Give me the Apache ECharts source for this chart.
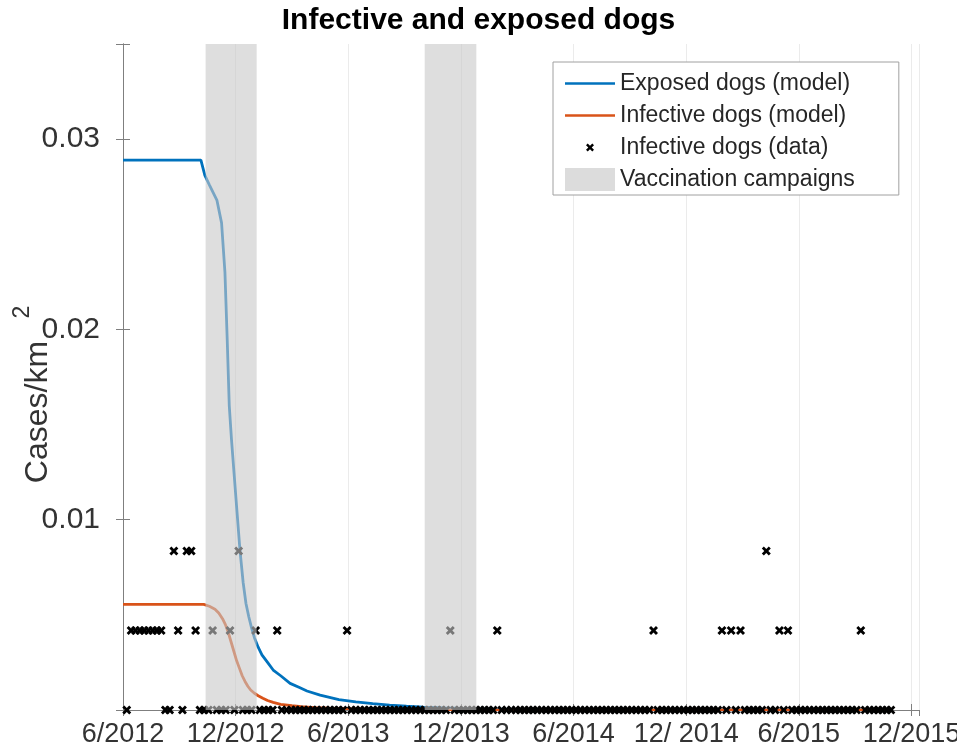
<!DOCTYPE html>
<html><head><meta charset="utf-8">
<script src="https://cdn.jsdelivr.net/npm/echarts@6/dist/echarts.min.js"></script>
<style>html,body{margin:0;padding:0;background:#fff}#c{width:957px;height:751px}</style>
</head><body><div id="c"></div>
<script>
// x axis unit: months since 1 June 2012
const tickLabels = ['6/2012', '12/2012', '6/2013', '12/2013', '6/2014', '12/ 2014', '6/2015', '12/2015'];

// Exposed dogs (model), cases/km^2
const exposedMonths = [0, 4.15, 4.36, 4.6, 5.0, 5.25, 5.43, 5.55, 5.66, 5.78, 6.05, 6.23, 6.4, 6.55, 6.7, 6.85, 7.0, 7.2, 7.4, 7.7, 8.0, 8.4, 8.9, 9.4, 9.8, 10.5, 11.5, 12.4, 13.3, 14.2, 15.1, 16.0, 17.0, 18.0, 19.0, 21.0, 24.0, 30.0, 41.0];
const exposedValues = [0.0289, 0.0289, 0.0281, 0.0276, 0.0268, 0.0256, 0.0230, 0.0195, 0.0160, 0.0142, 0.0107, 0.0084, 0.0067, 0.0056, 0.0049, 0.0043, 0.0038, 0.0033, 0.0029, 0.0025, 0.0021, 0.0018, 0.0014, 0.00118, 0.0010, 0.00078, 0.00055, 0.00043, 0.00034, 0.00026, 0.0002, 0.00015, 0.00011, 0.00008, 0.00006, 0.00003, 0.00001, 0, 0];

// Infective dogs (model), cases/km^2
const infectiveMonths = [0, 4.3, 4.6, 4.9, 5.1, 5.3, 5.45, 5.6, 5.75, 5.9, 6.05, 6.2, 6.35, 6.5, 6.65, 6.8, 7.0, 7.2, 7.45, 7.7, 8.0, 8.4, 9.0, 9.5, 10.2, 11.0, 12.0, 13.0, 16.0, 20.0, 41.0];
const infectiveValues = [0.00555, 0.00555, 0.00545, 0.0053, 0.0051, 0.0048, 0.0045, 0.0041, 0.0036, 0.0031, 0.0026, 0.0022, 0.0018, 0.0015, 0.00125, 0.00105, 0.00088, 0.00075, 0.00062, 0.0005, 0.0004, 0.0003, 0.00023, 0.00018, 0.00013, 0.0001, 0.00007, 0.00005, 0.00002, 0.00001, 0];

// Infective dogs (data): weekly counts of cases, first week starting 7 June 2012
const firstWeek = [2012, 5, 7];
const weeklyCases = [
  0,1,1,1,1,1,1,1,1,0, 0,2,1,0,2,2,1,0,0,0, 1,0,0,0,1,0,2,0,0,0,
  1,0,0,0,0,1,0,0,0,0, 0,0,0,0,0,0,0,0,0,0, 0,1,0,0,0,0,0,0,0,0,
  0,0,0,0,0,0,0,0,0,0, 0,0,0,0,0,1,0,0,0,0, 0,0,0,0,0,0,1,0,0,0,
  0,0,0,0,0,0,0,0,0,0, 0,0,0,0,0,0,0,0,0,0, 0,0,0,0,0,0,0,0,0,0,
  0,0,1,0,0,0,0,0,0,0, 0,0,0,0,0,0,0,0,1,0, 1,0,1,0,0,0,0,0,2,0,
  0,1,0,1,0,0,0,0,0,0, 0,0,0,0,0,0,0,0,0,0, 1,0,0,0,0,0,0,0
];
const densityPerCase = 0.00418; // cases/km^2 for one dog

// Vaccination campaigns (months since 1 June 2012)
const campaignStart = [4.40, 16.07];
const campaignEnd = [7.12, 18.82];

function monthsSinceJune2012(d) {
  const y = d.getFullYear(), m = d.getMonth(), day = d.getDate();
  const dim = new Date(y, m + 1, 0).getDate();
  return (y - 2012) * 12 + (m - 5) + (day - 1) / dim;
}

const dataPoints = weeklyCases.map((c, i) => {
  const d = new Date(firstWeek[0], firstWeek[1], firstWeek[2] + 7 * i);
  return [monthsSinceJune2012(d), c * densityPerCase];
});

const FONT = 'Liberation Sans';
const AXC = '#7f7f7f';
const xMarker = 'path://M0 0.45L0.45 0L1 0.55L1.55 0L2 0.45L1.45 1L2 1.55L1.55 2L1 1.45L0.45 2L0 1.55L0.55 1Z';
const xLegend = 'path://M0 0L0 0M50 23L50 23M21 9.2L22.7 7.5L25 9.8L27.3 7.5L29 9.2L26.7 11.5L29 13.8L27.3 15.5L25 13.2L22.7 15.5L21 13.8L23.3 11.5Z';
const lineLegend = 'path://M0 0L0 0M50 23L50 23M0 10.2L50 10.2L50 12.8L0 12.8Z';

const chart = echarts.init(document.getElementById('c'), null, {renderer: 'canvas'});
chart.setOption({
  animation: false,
  backgroundColor: '#fff',
  title: {
    text: 'Infective and exposed dogs', left: 'center', top: 1,
    textStyle: {fontFamily: FONT, fontSize: 30, fontWeight: 'bold', color: '#000'}
  },
  graphic: [
    {type: 'text', x: 38, y: 412, rotation: Math.PI / 2, silent: true,
      style: {text: 'Cases/km', fontFamily: FONT, fontSize: 32, fill: '#333', align: 'center', verticalAlign: 'middle'}},
    {type: 'text', x: 23, y: 312, rotation: Math.PI / 2, silent: true,
      style: {text: '2', fontFamily: FONT, fontSize: 23, fill: '#333', align: 'center', verticalAlign: 'middle'}}
  ],
  grid: {left: 123, right: 38, top: 44, bottom: 41, containLabel: false, outerBoundsMode: 'none'},
  legend: {
    orient: 'vertical', left: 553, top: 62,
    padding: [10, 44, 4, 12], itemGap: 9, itemWidth: 50, itemHeight: 23,
    backgroundColor: '#fff', borderColor: '#a0a0a0', borderWidth: 1,
    textStyle: {fontFamily: FONT, fontSize: 23, color: '#262626', lineHeight: 23},
    data: [
      {name: 'Exposed dogs (model)', icon: lineLegend},
      {name: 'Infective dogs (model)', icon: lineLegend},
      {name: 'Infective dogs (data)', icon: xLegend},
      {name: 'Vaccination campaigns', icon: 'rect', itemStyle: {color: '#dcdcdc'}}
    ]
  },
  xAxis: [{
    type: 'value', min: 0, max: 42.4, interval: 6,
    axisLine: {show: true, lineStyle: {color: AXC}},
    axisTick: {show: true, inside: true, length: 6, lineStyle: {color: AXC}},
    splitLine: {show: true, lineStyle: {color: '#ebebeb', width: 1}},
    axisLabel: {
      margin: 11, fontFamily: FONT, fontSize: 27, color: '#333',
      formatter: v => (Math.abs(v / 6 - Math.round(v / 6)) < 1e-6 ? (tickLabels[Math.round(v / 6)] || '') : ''),
      showMaxLabel: false
    }
  }, {
    type: 'value', position: 'top', min: 0, max: 42.4, interval: 6,
    axisLine: {show: true, lineStyle: {color: AXC}},
    axisTick: {show: true, inside: true, length: 6, lineStyle: {color: AXC}},
    splitLine: {show: false}, axisLabel: {show: false}
  }],
  yAxis: [{
    type: 'value', min: 0, max: 0.035, interval: 0.01,
    axisLine: {show: true, lineStyle: {color: AXC}},
    axisTick: {show: true, inside: true, length: 7, lineStyle: {color: AXC}},
    splitLine: {show: false},
    axisLabel: {
      margin: 23, fontFamily: FONT, fontSize: 30, color: '#333',
      formatter: v => (v > 0.005 && v < 0.031 ? v.toFixed(2) : '')
    }
  }, {
    type: 'value', position: 'right', min: 0, max: 0.035, interval: 0.01,
    axisLine: {show: true, lineStyle: {color: AXC}},
    axisTick: {show: true, inside: true, length: 7, lineStyle: {color: AXC}},
    splitLine: {show: false}, axisLabel: {show: false}
  }],
  series: [
    {
      name: 'Exposed dogs (model)', type: 'line', z: 3,
      data: exposedMonths.map((m, i) => [m, exposedValues[i]]),
      symbol: 'none', smooth: false,
      lineStyle: {color: '#0072BD', width: 2.8}, itemStyle: {color: '#0072BD'}
    },
    {
      name: 'Infective dogs (model)', type: 'line', z: 3,
      data: infectiveMonths.map((m, i) => [m, infectiveValues[i]]),
      symbol: 'none', smooth: false,
      lineStyle: {color: '#D95319', width: 2.8}, itemStyle: {color: '#D95319'}
    },
    {
      name: 'Infective dogs (data)', type: 'scatter', z: 4, clip: false,
      data: dataPoints, symbol: xMarker, symbolSize: 9,
      itemStyle: {color: '#000', opacity: 1}
    },
    {
      name: 'Vaccination campaigns', type: 'custom', z: 10, silent: true,
      itemStyle: {color: '#dcdcdc'},
      data: campaignStart.map((s, i) => [s, campaignEnd[i]]),
      renderItem: function (params, api) {
        const p0 = api.coord([api.value(0), 0]);
        const p1 = api.coord([api.value(1), 0]);
        const cs = params.coordSys;
        return {
          type: 'rect',
          shape: {x: p0[0], y: cs.y, width: p1[0] - p0[0], height: cs.height},
          style: {fill: 'rgba(200,200,200,0.6)'}
        };
      }
    }
  ]
});
</script>
</body></html>
